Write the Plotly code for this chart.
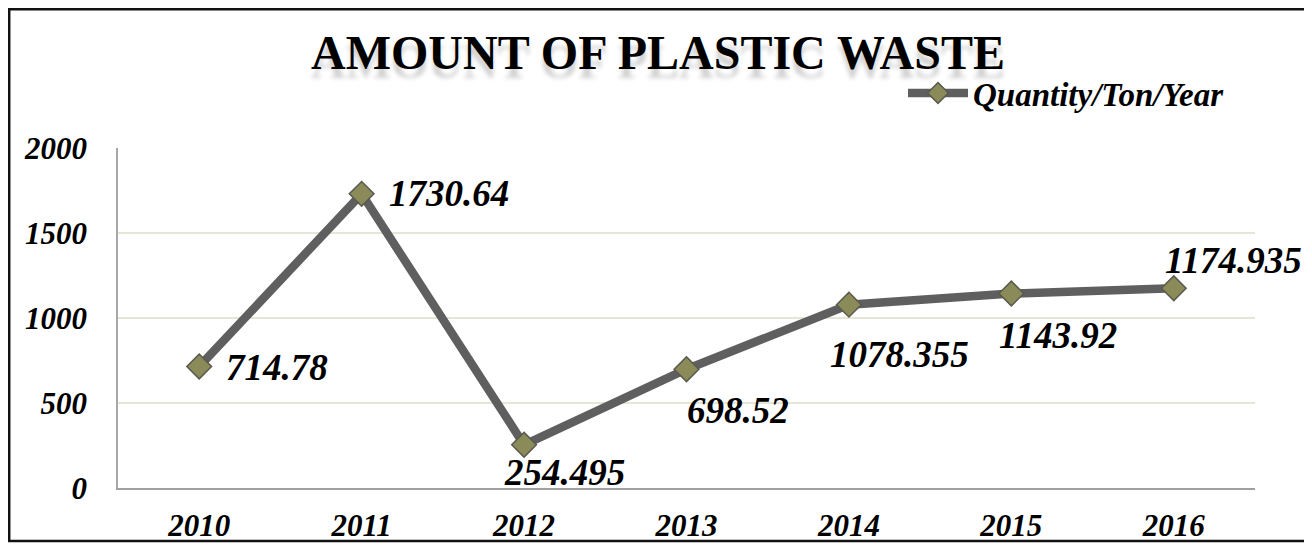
import plotly.graph_objects as go

years = ["2010", "2011", "2012", "2013", "2014", "2015", "2016"]
quantity = [714.78, 1730.64, 254.495, 698.52, 1078.355, 1143.92, 1174.935]
label_text = ["714.78", "1730.64", "254.495", "698.52", "1078.355", "1143.92", "1174.935"]
series_name = "Quantity/Ton/Year"
title_text = "AMOUNT OF PLASTIC WASTE"
y_ticks = [0, 500, 1000, 1500, 2000]

# label offsets (pixels) relative to each point
label_dx = [78, 87, 40, 51, 51, 47, 60]
label_dy = [-1, 0, -28, -41, -50, -42, 28]

FONT = "Liberation Serif"
OFF = 8  # page body margin
W, H = 1312 - OFF, 546 - OFF
# plot area in page coordinates
PL, PR, PT, PB = 118, 1255, 148, 488
L, R, T, B = PL - OFF, 1312 - PR, PT - OFF, 546 - PB
PW, PH = PR - PL, PB - PT

fig = go.Figure()
fig.add_trace(go.Scatter(
    x=years, y=quantity, name=series_name, mode="lines+markers",
    line=dict(color="#5f5f5f", width=8.5),
    marker=dict(symbol="diamond", size=19, color="#8b8b5a",
                line=dict(color="#5a5a4e", width=1.5)),
    showlegend=True,
))

for i, (y, t, dx, dy) in enumerate(zip(quantity, label_text, label_dx, label_dy)):
    fig.add_annotation(x=i, y=y, text=t, showarrow=False, xshift=dx, yshift=dy,
                       xanchor="center", yanchor="middle",
                       font=dict(family=FONT, size=37, color="black", weight="bold", style="italic"))

def px_x(p):
    return (p - PL) / PW

def px_y(p):
    return (PB - p) / PH

fig.add_shape(type="rect", xref="paper", yref="paper",
              x0=px_x(OFF + 1.2), x1=px_x(1309), y0=px_y(541), y1=px_y(OFF + 1.2),
              line=dict(color="#111111", width=2.5), fillcolor="rgba(0,0,0,0)", layer="below")

fig.update_layout(
    width=W, height=H,
    margin=dict(l=L, r=R, t=T, b=B, autoexpand=False),
    paper_bgcolor="white", plot_bgcolor="white",
    title=dict(text=title_text, x=(658 - OFF) / W, xanchor="center", xref="container",
               y=1 - (52 - OFF) / H, yanchor="middle", yref="container",
               font=dict(family=FONT, size=48, color="black", weight="bold",
                         shadow="0px 9px 4px rgba(0,0,0,0.18)")),
    legend=dict(x=px_x(1230), xanchor="right", y=px_y(93), yanchor="middle",
                bgcolor="rgba(0,0,0,0)", itemwidth=60,
                font=dict(family=FONT, size=33, color="black", weight="bold", style="italic")),
    xaxis=dict(type="category", range=[-0.5, 6.5], showgrid=False,
               showline=True, linecolor="#a0a0a0", linewidth=2, ticks="",
               ticklabelstandoff=9,
               tickfont=dict(family=FONT, size=31, color="black", weight="bold", style="italic")),
    yaxis=dict(range=[0, 2000], tickvals=y_ticks, showgrid=True, gridcolor="#e6e6d6", gridwidth=1.5,
               zeroline=False, showline=True, linecolor="#a8a8a8", linewidth=1.5, ticks="",
               ticklabelstandoff=23,
               tickfont=dict(family=FONT, size=31, color="black", weight="bold", style="italic")),
)

fig.write_html("out.html")
